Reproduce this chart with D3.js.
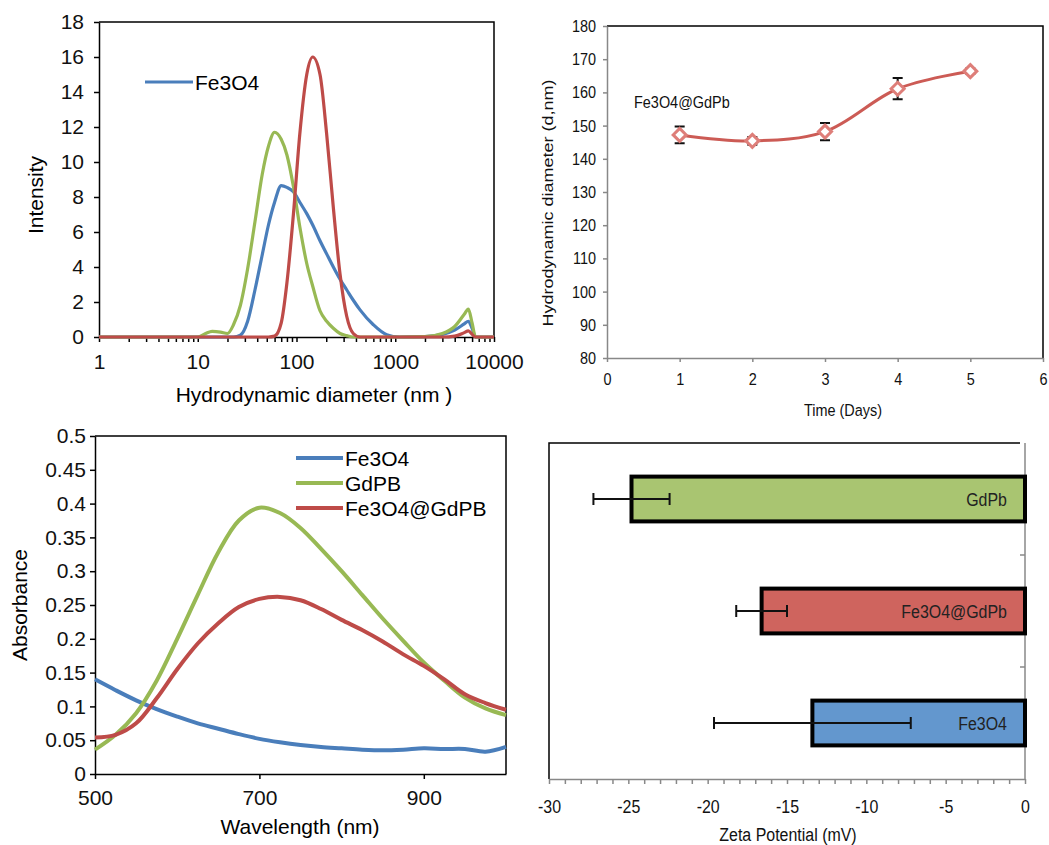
<!DOCTYPE html>
<html>
<head>
<meta charset="utf-8">
<script src="https://cdnjs.cloudflare.com/ajax/libs/d3/7.8.5/d3.min.js"></script>
<style>
  body { margin: 0; background: #fff; }
  svg { display: block; font-family: "Liberation Sans", Arial, sans-serif; }
</style>
</head>
<body>
<div id="chart"></div>
<script>
// DLS size distribution (top left)
var dlsDiameter = [1, 10, 12, 14, 17, 20, 23, 27, 32, 38, 45, 52, 60, 70, 80, 93, 108, 127, 146, 173,
  202, 236, 276, 322, 376, 440, 600, 820, 1100, 2000, 3000, 4000, 5000, 5500, 6000, 6500, 10000];
var dlsFe3O4 = [0, 0, 0, 0, 0, 0, 0, 0.1, 0.9, 2.7, 4.7, 6.4, 7.7, 8.65, 8.55, 8.3, 7.7, 7.05, 6.4, 5.5,
  4.75, 4.0, 3.3, 2.7, 2.1, 1.55, 0.7, 0.13, 0, 0.02, 0.15, 0.4, 0.75, 0.9, 0.5, 0, 0];
var dlsGdPB = [0, 0, 0.2, 0.32, 0.28, 0.2, 0.7, 1.8, 3.9, 6.6, 9.3, 10.9, 11.7, 11.3, 10.4, 8.6, 6.3, 4.2, 2.9, 1.5,
  0.9, 0.5, 0.2, 0.08, 0, 0, 0, 0, 0, 0.02, 0.2, 0.6, 1.3, 1.6, 0.8, 0, 0];
var dlsCoated = [0, 0, 0, 0, 0, 0, 0, 0, 0, 0, 0, 0, 0.05, 0.8, 3.1, 7.0, 11.6, 15.0, 16.0, 15.0,
  11.6, 7.4, 3.6, 1.2, 0.2, 0, 0, 0, 0, 0, 0, 0.05, 0.25, 0.35, 0.15, 0, 0];
var dlsMajorTicks = [1, 10, 100, 1000, 10000];

// stability over time (top right)
var stabDays = [1, 2, 3, 4, 5];
var stabSize = [147.2, 145.4, 148.2, 161.1, 166.4];
var stabErr = [2.5, 1.2, 2.6, 3.2, 0.8];

// UV-vis spectra (bottom left)
var uvWavelength = [500, 525, 550, 575, 600, 625, 650, 675, 700, 725, 750, 775, 800, 825, 850, 875, 900, 925, 950, 975, 1000];
var uvFe3O4 = [0.140, 0.124, 0.109, 0.096, 0.085, 0.075, 0.067, 0.059, 0.052, 0.047, 0.043, 0.040, 0.038, 0.036, 0.035, 0.036, 0.038, 0.037, 0.037, 0.033, 0.040];
var uvGdPB = [0.036, 0.058, 0.090, 0.138, 0.200, 0.265, 0.328, 0.375, 0.394, 0.386, 0.364, 0.333, 0.300, 0.265, 0.230, 0.197, 0.165, 0.138, 0.113, 0.097, 0.087];
var uvCoated = [0.054, 0.058, 0.075, 0.112, 0.155, 0.193, 0.223, 0.247, 0.259, 0.262, 0.257, 0.244, 0.228, 0.213, 0.196, 0.177, 0.160, 0.140, 0.118, 0.105, 0.095];
var uvXTicks = [500, 700, 900];

// zeta potential (bottom right)
var zetaSamples = ['GdPb', 'Fe3O4@GdPb', 'Fe3O4'];
var zetaValue = [-24.8, -16.6, -13.4];
var zetaErr = [2.4, 1.6, 6.2];

(function (d3) {
  'use strict';

  var blue = '#4A7EBB', green = '#98B954', red = '#BE4B48';

  var svg = d3.select('#chart').append('svg')
    .attr('width', 1049)
    .attr('height', 845);

  function styleAxis(g, color, size) {
    g.select('.domain').attr('stroke', color).attr('stroke-width', 1.5);
    g.selectAll('.tick line').attr('stroke', color).attr('stroke-width', 1.5);
    g.selectAll('.tick text').attr('fill', '#111').style('font-size', size + 'px').attr('font-family', null);
  }

  // the right-hand panels are horizontally squeezed, so their text is too
  function squeeze(sel, k) {
    sel.each(function () {
      var t = d3.select(this);
      var x = +t.attr('x') || 0;
      t.attr('x', x / k).attr('transform', (t.attr('transform') || '') + ' scale(' + k + ',1)');
    });
  }

  //---------- top left: DLS ----------
  var x1 = d3.scaleLog().domain([1, 10000]).range([99, 494]);
  var y1 = d3.scaleLinear().domain([0, 18]).range([337, 22]);
  var p1 = svg.append('g');

  p1.append('path')
    .attr('d', 'M' + x1(1) + ',' + y1(18) + 'H' + x1(10000) + 'V' + y1(0))
    .attr('fill', 'none').attr('stroke', '#000').attr('stroke-width', 1.5);

  var ax1 = p1.append('g').attr('transform', 'translate(0,' + y1(0) + ')')
    .call(d3.axisBottom(x1).tickValues(x1.ticks()).tickSize(5).tickPadding(12).tickSizeOuter(0)
      .tickFormat(function (d) { return dlsMajorTicks.indexOf(d) >= 0 ? d : ''; }));
  styleAxis(ax1, '#000', 21);

  var ay1 = p1.append('g').attr('transform', 'translate(' + x1(1) + ',0)')
    .call(d3.axisLeft(y1).ticks(9).tickSize(5).tickPadding(10).tickSizeOuter(0));
  styleAxis(ay1, '#000', 21);

  var line1 = d3.line()
    .x(function (d, i) { return x1(dlsDiameter[i]); })
    .y(function (d) { return y1(d); })
    .curve(d3.curveMonotoneX);

  [[dlsFe3O4, blue], [dlsGdPB, green], [dlsCoated, red]].forEach(function (s) {
    p1.append('path').attr('d', line1(s[0]))
      .attr('fill', 'none').attr('stroke', s[1]).attr('stroke-width', 3.2)
      .attr('stroke-linejoin', 'round');
  });

  p1.append('line').attr('x1', 145).attr('x2', 193).attr('y1', 82).attr('y2', 82)
    .attr('stroke', blue).attr('stroke-width', 3.2);
  p1.append('text').attr('x', 195).attr('y', 90).style('font-size', '21px').text('Fe3O4');

  p1.append('text').attr('x', 314).attr('y', 402).attr('text-anchor', 'middle')
    .style('font-size', '21px').text('Hydrodynamic diameter (nm )');
  p1.append('text').attr('transform', 'translate(43,195) rotate(-90)').attr('text-anchor', 'middle')
    .style('font-size', '21px').text('Intensity');

  //---------- top right: size vs time ----------
  var x2 = d3.scaleLinear().domain([0, 6]).range([607, 1043]);
  var y2 = d3.scaleLinear().domain([80, 180]).range([358, 26]);
  var p2 = svg.append('g');

  p2.append('path')
    .attr('d', 'M' + x2(0) + ',' + y2(180) + 'H' + x2(6) + 'V' + y2(80))
    .attr('fill', 'none').attr('stroke', '#000').attr('stroke-width', 1.5);

  var ax2 = p2.append('g').attr('transform', 'translate(0,' + y2(80) + ')')
    .call(d3.axisBottom(x2).ticks(6).tickSize(4).tickPadding(11).tickSizeOuter(0));
  styleAxis(ax2, '#888', 17);
  squeeze(ax2.selectAll('.tick text'), 0.85);
  var ay2 = p2.append('g').attr('transform', 'translate(' + x2(0) + ',0)')
    .call(d3.axisLeft(y2).ticks(10).tickSize(4).tickPadding(7).tickSizeOuter(0));
  styleAxis(ay2, '#888', 17);
  squeeze(ay2.selectAll('.tick text'), 0.85);

  var line2 = d3.line()
    .x(function (d, i) { return x2(stabDays[i]); })
    .y(function (d) { return y2(d); })
    .curve(d3.curveCatmullRom.alpha(0.5));
  p2.append('path').attr('d', line2(stabSize))
    .attr('fill', 'none').attr('stroke', '#CC5B55').attr('stroke-width', 3);

  var err2 = p2.selectAll('.err').data(stabSize).enter().append('g');
  err2.append('path')
    .attr('d', function (d, i) {
      var cx = x2(stabDays[i]), t = y2(d + stabErr[i]), b = y2(d - stabErr[i]);
      return 'M' + cx + ',' + t + 'V' + b + 'M' + (cx - 5) + ',' + t + 'H' + (cx + 5) +
        'M' + (cx - 5) + ',' + b + 'H' + (cx + 5);
    })
    .attr('fill', 'none').attr('stroke', '#111').attr('stroke-width', 2);

  p2.selectAll('.marker').data(stabSize).enter().append('path')
    .attr('d', function (d, i) {
      var cx = x2(stabDays[i]), cy = y2(d), r = 6.5;
      return 'M' + cx + ',' + (cy - r) + 'L' + (cx + r) + ',' + cy + 'L' + cx + ',' + (cy + r) + 'L' + (cx - r) + ',' + cy + 'Z';
    })
    .attr('fill', '#fff').attr('stroke', '#DE7E79').attr('stroke-width', 3);

  var t2a = p2.append('text').attr('x', 634).attr('y', 108).style('font-size', '17px').attr('fill', '#111').text('Fe3O4@GdPb');
  var t2b = p2.append('text').attr('x', 843).attr('y', 416).attr('text-anchor', 'middle')
    .style('font-size', '17px').attr('fill', '#111').text('Time (Days)');
  squeeze(t2a, 0.85);
  squeeze(t2b, 0.85);
  p2.append('text').attr('transform', 'translate(553,203) rotate(-90) scale(1,0.85)').attr('text-anchor', 'middle')
    .style('font-size', '18px').attr('fill', '#111').text('Hydrodynamic diameter (d,nm)');

  //---------- bottom left: absorbance ----------
  var x3 = d3.scaleLinear().domain([500, 1000]).range([95, 506]);
  var y3 = d3.scaleLinear().domain([0, 0.5]).range([774, 436]);
  var p3 = svg.append('g');

  p3.append('path')
    .attr('d', 'M' + x3(500) + ',' + y3(0.5) + 'H' + x3(1000) + 'V' + y3(0))
    .attr('fill', 'none').attr('stroke', '#000').attr('stroke-width', 1.5);

  var ax3 = p3.append('g').attr('transform', 'translate(0,' + y3(0) + ')')
    .call(d3.axisBottom(x3).tickValues(uvXTicks).tickSize(5).tickPadding(11).tickSizeOuter(0));
  styleAxis(ax3, '#000', 21);
  var ay3 = p3.append('g').attr('transform', 'translate(' + x3(500) + ',0)')
    .call(d3.axisLeft(y3).ticks(10).tickSize(5).tickPadding(4).tickSizeOuter(0).tickFormat(d3.format('~g')));
  styleAxis(ay3, '#000', 21);

  var line3 = d3.line()
    .x(function (d, i) { return x3(uvWavelength[i]); })
    .y(function (d) { return y3(d); })
    .curve(d3.curveCatmullRom.alpha(0.5));

  var uvSeries = [[uvFe3O4, blue, 'Fe3O4'], [uvGdPB, green, 'GdPB'], [uvCoated, red, 'Fe3O4@GdPB']];
  uvSeries.forEach(function (s) {
    p3.append('path').attr('d', line3(s[0]))
      .attr('fill', 'none').attr('stroke', s[1]).attr('stroke-width', 4)
      .attr('stroke-linejoin', 'round');
  });

  var legend3 = p3.selectAll('.legend').data(uvSeries).enter().append('g')
    .attr('transform', function (d, i) { return 'translate(296,' + (458 + i * 25) + ')'; });
  legend3.append('line').attr('x1', 0).attr('x2', 47)
    .attr('stroke', function (d) { return d[1]; }).attr('stroke-width', 4);
  legend3.append('text').attr('x', 49).attr('y', 8).style('font-size', '21px')
    .text(function (d) { return d[2]; });

  p3.append('text').attr('x', 300).attr('y', 834).attr('text-anchor', 'middle')
    .style('font-size', '21px').text('Wavelength (nm)');
  p3.append('text').attr('transform', 'translate(27,605) rotate(-90)').attr('text-anchor', 'middle')
    .style('font-size', '21px').text('Absorbance');

  //---------- bottom right: zeta potential ----------
  var x4 = d3.scaleLinear().domain([-30, 0]).range([549, 1025]);
  var y4 = d3.scaleBand().domain(zetaSamples).range([443, 779]).paddingInner(0.6).paddingOuter(0.3);
  var p4 = svg.append('g');

  p4.append('path')
    .attr('d', 'M' + (x4(0) - 5) + ',443H' + x4(-30) + 'V779')
    .attr('fill', 'none').attr('stroke', '#000').attr('stroke-width', 1.5);

  var ax4 = p4.append('g').attr('transform', 'translate(0,779)')
    .call(d3.axisBottom(x4).tickValues(d3.range(-30, 1, 1)).tickSize(5).tickPadding(16).tickSizeOuter(0)
      .tickFormat(function (d) { return d % 5 === 0 ? String(d) : ''; }));
  styleAxis(ax4, '#888', 19);
  squeeze(ax4.selectAll('.tick text'), 0.84);

  // category axis on the zero line, ticks between bands
  p4.append('line').attr('x1', x4(0)).attr('x2', x4(0)).attr('y1', 443).attr('y2', 779)
    .attr('stroke', '#888').attr('stroke-width', 1.5);
  p4.selectAll('.cattick').data(zetaSamples.slice(1)).enter().append('line')
    .attr('x1', x4(0) - 5).attr('x2', x4(0))
    .attr('y1', function (d) { return y4(d) - y4.step() * y4.paddingInner() / 2; })
    .attr('y2', function (d) { return y4(d) - y4.step() * y4.paddingInner() / 2; })
    .attr('stroke', '#888').attr('stroke-width', 1.5);

  var zetaColors = ['#A9C571', '#CF645E', '#6397CE'];
  p4.selectAll('.bar').data(zetaSamples).enter().append('rect')
    .attr('x', function (d, i) { return x4(zetaValue[i]); })
    .attr('y', function (d) { return y4(d); })
    .attr('width', function (d, i) { return x4(0) - x4(zetaValue[i]); })
    .attr('height', y4.bandwidth())
    .attr('fill', function (d, i) { return zetaColors[i]; })
    .attr('stroke', '#000').attr('stroke-width', 4);

  p4.selectAll('.zerr').data(zetaSamples).enter().append('path')
    .attr('d', function (d, i) {
      var cy = y4(d) + y4.bandwidth() / 2;
      var l = x4(zetaValue[i] - zetaErr[i]), r = x4(zetaValue[i] + zetaErr[i]);
      return 'M' + l + ',' + cy + 'H' + r + 'M' + l + ',' + (cy - 6) + 'V' + (cy + 6) +
        'M' + r + ',' + (cy - 6) + 'V' + (cy + 6);
    })
    .attr('fill', 'none').attr('stroke', '#111').attr('stroke-width', 2);

  var barLabels = p4.selectAll('.blabel').data(zetaSamples).enter().append('text')
    .attr('x', 1007)
    .attr('y', function (d) { return y4(d) + y4.bandwidth() / 2 + 7; })
    .attr('text-anchor', 'end').style('font-size', '19px').attr('fill', '#222')
    .text(function (d) { return d; });
  squeeze(barLabels, 0.84);

  var t4 = p4.append('text').attr('x', 788).attr('y', 841).attr('text-anchor', 'middle')
    .style('font-size', '19px').attr('fill', '#111').text('Zeta Potential (mV)');
  squeeze(t4, 0.84);

})(window.d3);
</script>
</body>
</html>
